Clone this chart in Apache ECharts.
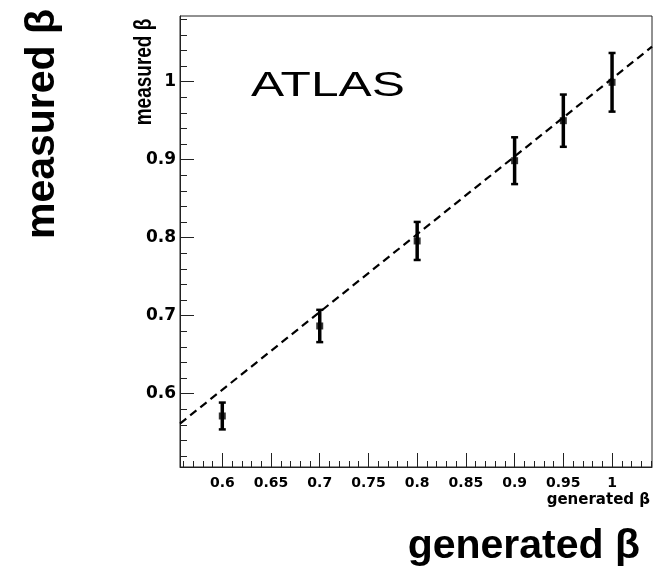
<!DOCTYPE html>
<html>
<head>
<meta charset="utf-8">
<script src="https://cdn.jsdelivr.net/npm/echarts@6/dist/echarts.min.js"></script>
<style>
html,body{margin:0;padding:0;background:#fff;}
#chart{width:656px;height:568px;}
</style>
</head>
<body>
<div id="chart"></div>
<script>
// ---- data ----
const genBeta  = [0.6, 0.7, 0.8, 0.9, 0.95, 1.0];
const measBeta = [0.5714, 0.6868, 0.7958, 0.8987, 0.950, 0.9992];
const measErr  = [0.0172, 0.0207, 0.0244, 0.0300, 0.0335, 0.0376];
const fitX = [0.5566, 1.041];
const fitY = [0.5617, 1.0448];
const xMajorTicks = [0.6, 0.65, 0.7, 0.75, 0.8, 0.85, 0.9, 0.95, 1.0];
const xMinorTicks = [0.56,0.57,0.58,0.59,0.61,0.62,0.63,0.64,0.66,0.67,0.68,0.69,0.71,0.72,0.73,0.74,0.76,0.77,0.78,0.79,0.81,0.82,0.83,0.84,0.86,0.87,0.88,0.89,0.91,0.92,0.93,0.94,0.96,0.97,0.98,0.99,1.01,1.02,1.03,1.04];
const yMajorTicks = [0.6, 0.7, 0.8, 0.9, 1.0];
const yMinorTicks = [0.52,0.54,0.56,0.58,0.62,0.64,0.66,0.68,0.72,0.74,0.76,0.78,0.82,0.84,0.86,0.88,0.92,0.94,0.96,0.98,1.02,1.04,1.06,1.08];
const xRange = [0.5566, 1.041];
const yRange = [0.506, 1.0842];

const fmt = v => String(+(+v).toFixed(2));
const axisCol = '#222';

const chart = echarts.init(document.getElementById('chart'), null, {renderer:'canvas'});
const option = {
  animation: false,
  backgroundColor: '#fff',
  grid: {left:180, top:16, width:472, height:451, show:true, borderColor:axisCol, borderWidth:1, backgroundColor:'transparent'},
  xAxis: [
    {type:'value', min:xRange[0], max:xRange[1], position:'bottom', offset:0,
     axisLine:{show:true, onZero:false, lineStyle:{color:axisCol, width:1}},
     axisTick:{show:true, inside:true, length:14, customValues:xMajorTicks, lineStyle:{color:axisCol, width:1}},
     axisLabel:{show:true, customValues:xMajorTicks, formatter:fmt, margin:9, color:'#000',
       fontFamily:'DejaVu Sans', fontWeight:'bold', fontSize:14},
     splitLine:{show:false}},
    {type:'value', min:xRange[0], max:xRange[1], position:'bottom', offset:0,
     axisLine:{show:false, onZero:false},
     axisTick:{show:true, inside:true, length:6, customValues:xMinorTicks, lineStyle:{color:axisCol, width:1}},
     axisLabel:{show:false}, splitLine:{show:false}}
  ],
  yAxis: [
    {type:'value', min:yRange[0], max:yRange[1], position:'left', offset:0,
     axisLine:{show:true, onZero:false, lineStyle:{color:axisCol, width:1}},
     axisTick:{show:true, inside:true, length:14, customValues:yMajorTicks, lineStyle:{color:axisCol, width:1}},
     axisLabel:{show:true, customValues:yMajorTicks, formatter:fmt, margin:4, color:'#000',
       fontFamily:'DejaVu Sans', fontWeight:'bold', fontSize:17},
     splitLine:{show:false}},
    {type:'value', min:yRange[0], max:yRange[1], position:'left', offset:0,
     axisLine:{show:false, onZero:false},
     axisTick:{show:true, inside:true, length:7, customValues:yMinorTicks, lineStyle:{color:axisCol, width:1}},
     axisLabel:{show:false}, splitLine:{show:false}}
  ],
  series: [
    {type:'line', xAxisIndex:0, yAxisIndex:0, data: fitX.map((x,i)=>[x, fitY[i]]),
     symbol:'none', lineStyle:{color:'#000', width:2.2, type:[8,5]}, silent:true, z:2},
    {type:'custom', xAxisIndex:0, yAxisIndex:0,
     data: genBeta.map((x,i)=>[x, measBeta[i], measErr[i]]),
     renderItem: function(params, api){
       const x = api.value(0), y = api.value(1), e = api.value(2);
       const t = api.coord([x, y+e]);
       const b = api.coord([x, y-e]);
       const st = {stroke:'#000', lineWidth:3.5};
       const cs = {stroke:'#000', lineWidth:2.5};
       return {type:'group', children:[
         {type:'line', shape:{x1:t[0], y1:t[1], x2:b[0], y2:b[1]}, style:st},
         {type:'line', shape:{x1:t[0]-3.5, y1:t[1], x2:t[0]+3.5, y2:t[1]}, style:cs},
         {type:'line', shape:{x1:b[0]-3.5, y1:b[1], x2:b[0]+3.5, y2:b[1]}, style:cs}
       ]};
     }, z:3},
    {type:'scatter', xAxisIndex:0, yAxisIndex:0, data: genBeta.map((x,i)=>[x, measBeta[i]]),
     symbol:'rect', symbolSize:7, itemStyle:{color:'#000'}, z:4}
  ],
  graphic: [
    {type:'text', x:328, y:86, scaleX:1.42, style:{text:'ATLAS', font:'35px "Liberation Sans"', align:'center', verticalAlign:'middle', fill:'#000'}},
    {type:'text', x:144, y:72, rotation:Math.PI/2, scaleY:1.3, style:{text:'measured β', font:'bold 19px "Liberation Sans"', align:'center', verticalAlign:'middle', fill:'#000'}},
    {type:'text', x:650, y:500, style:{text:'generated β', font:'bold 15px "DejaVu Sans"', align:'right', verticalAlign:'middle', fill:'#000'}},
    {type:'text', x:640, y:547, style:{text:'generated β', font:'bold 41px "Liberation Sans"', align:'right', verticalAlign:'middle', fill:'#000'}},
    {type:'text', x:43, y:124, rotation:Math.PI/2, style:{text:'measured β', font:'bold 41px "Liberation Sans"', align:'center', verticalAlign:'middle', fill:'#000'}}
  ]
};
chart.setOption(option);
</script>
</body>
</html>
